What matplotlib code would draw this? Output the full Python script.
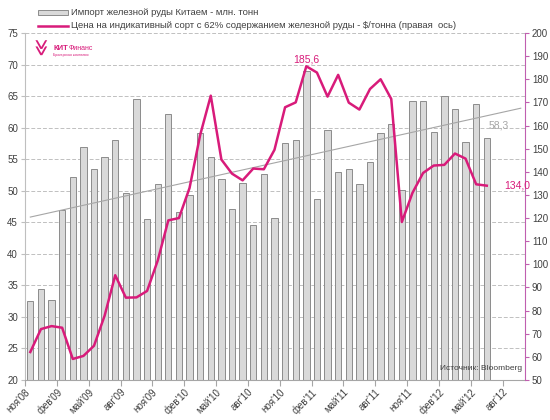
import numpy as np
import matplotlib
matplotlib.use('Agg')
import matplotlib.pyplot as plt
from matplotlib.patches import Rectangle

plt.rcParams['font.family'] = ['Liberation Sans', 'DejaVu Sans']

months = ['ноя', 'дек', 'янв', 'фев', 'мар', 'апр', 'май', 'июн', 'июл', 'авг', 'сен', 'окт']

# импорт руды, млн т (ноя'08 - июн'12)
imports = [32.5, 34.5, 32.7, 46.9, 52.1, 57.0, 53.5, 55.3, 58.1, 49.7, 64.6, 45.5,
           51.1, 62.1, 46.6, 49.4, 59.1, 55.3, 51.9, 47.1, 51.3, 44.6, 52.6, 45.7,
           57.5, 58.1, 69.0, 48.7, 59.6, 52.9, 53.4, 51.1, 54.6, 59.2, 60.6, 50.1,
           64.3, 64.2, 59.3, 65.0, 62.9, 57.8, 63.8, 58.3]

# цена, $/т
price = [62.1, 72.0, 73.3, 72.6, 59.1, 60.4, 64.8, 77.8, 95.3, 85.6, 85.7, 88.5,
         101.6, 119.0, 120.0, 133.0, 155.9, 172.9, 145.3, 139.2, 136.3, 141.4, 141.1, 149.5,
         167.9, 170.0, 185.6, 182.9, 172.5, 181.9, 169.9, 166.9, 175.8, 180.0, 171.5, 118.3,
         130.9, 139.5, 142.7, 143.0, 147.9, 145.7, 134.6, 134.0]

tick_labels = []
for k in range(0, 46, 3):
    yr = 8 + (10 + k) // 12
    tick_labels.append("%s'%02d" % (months[k % 12], yr))

pink = '#d81b7a'
gray_txt = '#404040'

fig = plt.figure(figsize=(5.5, 4.2), dpi=100)
ax = fig.add_axes([25/550, 1-380/420, 500/550, 347/420])
ax2 = ax.twinx()

x = np.arange(len(imports))
ax.bar(x, imports, width=0.6, color='#d9d9d9', edgecolor='#8c8c8c', linewidth=0.7, zorder=2)

# линейный тренд по импорту
k, b = np.polyfit(x, imports, 1)
xt = np.array([0, len(imports) + 2.2])
ax.plot(xt, k * xt + b, color='#a6a6a6', lw=0.8, zorder=3)

ax2.plot(x, price, color=pink, lw=1.8, zorder=4)

ax.set_xlim(-0.5, 46.6)
ax.set_ylim(20, 75)
ax2.set_ylim(50, 200)
ax.set_yticks(np.arange(20, 76, 5))
ax2.set_yticks(np.arange(50, 201, 10))
ax.yaxis.grid(True, linestyle=(0, (4, 2)), color='#c0c0c0', lw=0.7, zorder=0)
ax.set_axisbelow(True)

ticks = np.arange(0, 46, 3) - 0.5
ax.set_xticks(ticks)
ax.set_xticklabels(tick_labels, rotation=45, ha='right', rotation_mode='anchor')

for s in ['top', 'right']:
    ax.spines[s].set_visible(False)
for s in ['top', 'left', 'bottom']:
    ax2.spines[s].set_visible(False)
ax.spines['left'].set_color('#bfbfbf')
ax.spines['bottom'].set_color('#a6a6a6')
ax2.spines['right'].set_color('#c05fb0')

ax.tick_params(axis='y', labelsize=7, colors=gray_txt, length=3, color='#bfbfbf', pad=2)
ax.tick_params(axis='x', labelsize=7, colors=gray_txt, length=4, color='#a6a6a6', pad=1)
ax2.tick_params(axis='y', labelsize=7, colors=gray_txt, length=3, color='#c05fb0', pad=2)

ax2.text(26, 186.5, '185,6', color=pink, fontsize=7.5, ha='center', va='bottom')
ax.text(44.1, 59.6, '58,3', color='#a6a6a6', fontsize=7.5, ha='center', va='bottom')
ax2.text(44.6, 134.0, '134,0', color=pink, fontsize=7.5, ha='left', va='center')
ax.text(38.6, 21.2, 'Источник: Bloomberg', color=gray_txt, fontsize=6, ha='left', va='bottom')

# логотип
fig.text(0.072, 1-48/420, '≫', color=pink, fontsize=12, fontweight='bold', rotation=-90,
         ha='center', va='center', family='DejaVu Sans')
fig.text(53/550, 1-48/420, 'КИТ', color=pink, fontsize=5.5, fontweight='bold', ha='left', va='center')
fig.text(68.5/550, 1-48/420, 'Финанс', color=pink, fontsize=5, ha='left', va='center')
fig.text(53/550, 1-55/420, 'Брокерская компания', color=pink, fontsize=2.5, ha='left', va='center')

# легенда
fig.patches.append(Rectangle((38/550, 1-15/420), 30/550, 5/420, transform=fig.transFigure,
                             facecolor='#d9d9d9', edgecolor='#8c8c8c', lw=0.7))
fig.lines.append(plt.Line2D([38/550, 68/550], [1-26/420, 1-26/420], transform=fig.transFigure,
                            color=pink, lw=1.8))
fig.text(71/550, 1-12.5/420, 'Импорт железной руды Китаем - млн. тонн', fontsize=6.8,
         color=gray_txt, va='center')
fig.text(71/550, 1-26/420, 'Цена на индикативный сорт с 62% содержанием железной руды - $/тонна (правая  ось)',
         fontsize=6.8, color=gray_txt, va='center')

fig.savefig('out.png', dpi=100)
